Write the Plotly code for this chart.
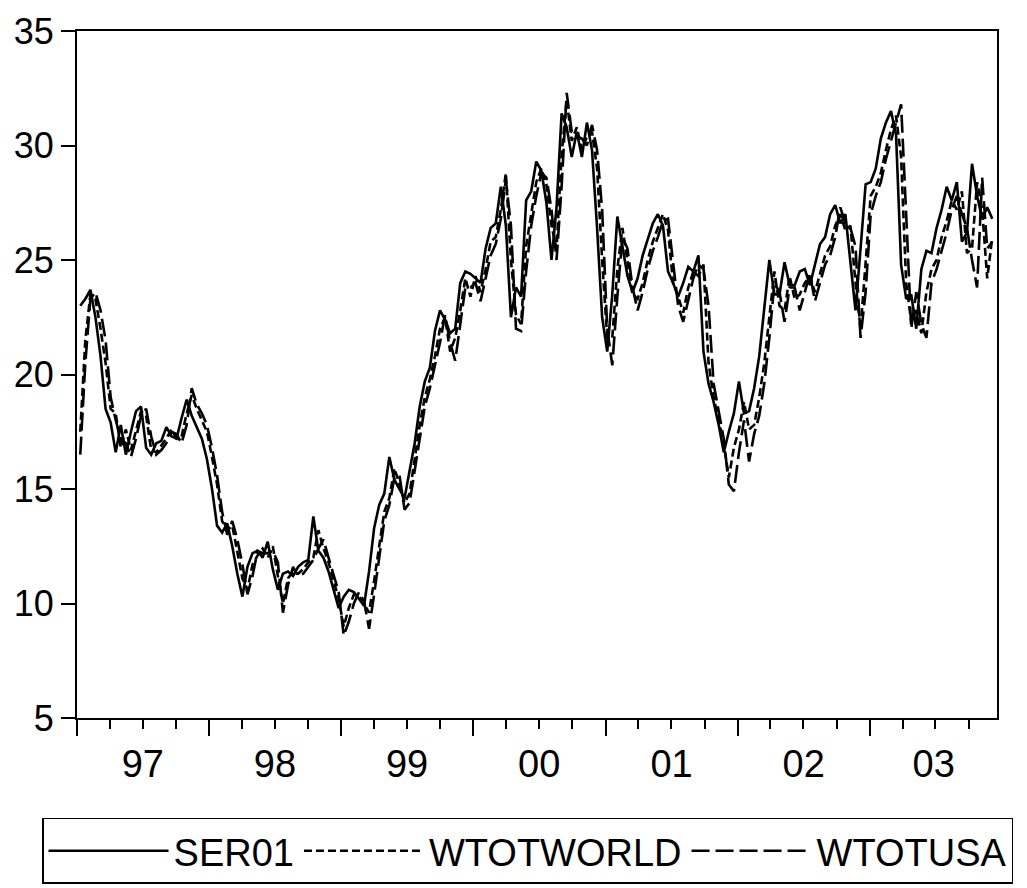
import pandas as pd
import plotly.graph_objects as go

# biweekly observation dates
dates = pd.date_range(start="1997-01-10", periods=181, freq="14D")

ser01 = [
    23.0, 23.3, 23.7, 22.5, 20.8, 18.5, 17.9, 16.6, 17.8, 16.5,
    17.5, 18.4, 18.6, 16.8, 16.5, 17.0, 17.1, 17.7, 17.3, 17.2,
    18.1, 18.9, 18.2, 17.7, 17.2, 16.3, 15.0, 13.4, 13.1, 13.5,
    12.5, 11.3, 10.3, 11.6, 12.2, 12.3, 12.0, 12.7, 11.5, 10.6,
    11.3, 11.4, 11.2, 11.6, 11.8, 11.9, 13.8, 12.3, 12.0, 11.4,
    10.6, 9.8, 10.3, 10.6, 10.5, 10.2, 9.9, 11.4, 13.3, 14.3,
    14.8, 16.4, 15.4, 15.0, 14.6, 15.8, 17.0, 18.6, 19.7, 20.3,
    21.9, 22.8, 22.4, 21.8, 22.0, 24.0, 24.5, 24.4, 24.2, 24.0,
    25.5, 26.4, 26.6, 28.2, 26.5, 22.5, 23.8, 23.4, 27.6, 28.0,
    29.3, 28.9, 27.5, 25.0, 27.3, 31.4, 30.8, 29.5, 30.6, 29.5,
    31.0, 29.8, 26.4, 22.5, 21.0, 23.5, 26.9, 25.6, 24.3, 23.6,
    24.2, 25.2, 25.9, 26.6, 27.0, 26.5, 24.5, 24.0, 23.4, 24.0,
    24.7, 24.5, 25.2, 21.0, 19.6, 18.8, 17.8, 16.6, 17.5, 18.3,
    19.7, 18.3, 18.4, 19.4, 20.8, 22.8, 25.0, 23.5, 23.5, 24.9,
    23.9, 23.9, 24.5, 24.6, 23.9, 24.8, 25.7, 26.0, 27.0, 27.4,
    26.6, 27.0, 25.0, 22.8, 25.5, 28.3, 28.4, 29.0, 30.3, 31.0,
    31.5, 30.5, 24.8, 23.3, 23.5, 22.0, 24.6, 25.4, 25.3, 26.4,
    27.2, 28.2, 27.6, 28.4, 25.8, 26.2, 29.2, 27.8, 26.8, 27.3,
    26.8,
]

wtotworld = [
    17.5, 21.5, 23.5, 23.3, 22.0, 20.5, 18.5, 18.3, 16.8, 17.6,
    16.7, 17.6, 18.4, 18.2, 16.7, 16.6, 16.9, 17.2, 17.6, 17.2,
    17.3, 18.3, 19.1, 18.5, 18.0, 17.5, 16.4, 15.2, 13.6, 13.2,
    13.4, 12.3, 11.1, 10.6, 11.7, 12.1, 12.4, 12.0, 12.5, 11.2,
    10.0, 11.1, 11.4, 11.3, 11.5, 11.8, 12.0, 13.2, 12.4, 11.8,
    11.0, 10.2, 9.0, 9.8, 10.4, 10.3, 10.0, 9.6, 11.0, 12.6,
    14.0, 14.6, 15.9, 15.2, 14.4, 14.8, 16.3, 17.8, 19.0, 19.8,
    20.8, 22.0, 22.5, 21.0, 21.6, 22.8, 24.2, 23.4, 24.3, 23.6,
    24.6, 25.8, 26.0, 27.2, 28.8, 25.0, 22.6, 22.2, 25.6, 27.0,
    28.4, 29.0, 28.3, 26.5, 25.5, 29.6, 32.0, 30.2, 30.8, 29.8,
    30.4, 30.6, 29.0, 25.0, 21.6, 21.6, 24.6, 26.4, 24.9, 23.5,
    23.3, 24.0, 25.0, 25.8, 26.4, 27.0, 26.3, 24.0, 23.4, 22.7,
    23.8, 24.5, 24.3, 24.8, 20.5, 19.0, 18.0, 17.0, 15.5, 16.8,
    17.6, 18.8, 17.6, 17.8, 19.0, 20.5, 22.5, 24.5, 23.0, 22.8,
    24.3, 23.3, 23.5, 24.0, 24.3, 23.6, 24.4, 25.2, 25.6, 26.5,
    27.0, 26.3, 26.5, 24.0, 22.0, 25.0, 27.8, 28.2, 28.8, 29.8,
    30.7, 31.3, 29.5, 24.0, 22.3, 22.8, 21.8, 23.6, 24.6, 25.0,
    26.0, 26.7, 27.6, 27.2, 28.0, 25.3, 25.5, 28.4, 27.2, 24.2,
    26.0,
]

wtotusa = [
    16.5, 20.5, 23.3, 23.6, 22.8, 21.5, 19.0, 18.0, 17.2, 17.0,
    16.4, 17.2, 18.2, 18.5, 17.3, 16.5, 16.7, 17.0, 17.5, 17.4,
    17.0, 17.8, 19.4, 18.7, 18.3, 17.8, 16.8, 15.6, 14.0, 13.0,
    13.6, 12.8, 11.7, 10.4, 11.2, 12.3, 12.2, 12.2, 12.3, 11.8,
    9.6, 10.8, 11.6, 11.2, 11.3, 11.6, 11.9, 12.4, 12.8, 12.0,
    11.3, 10.5, 8.6, 9.2, 10.0, 10.5, 10.1, 8.9, 10.4, 12.0,
    13.6, 14.3, 15.5, 15.6, 14.1, 14.4, 15.8, 17.3, 18.6, 19.4,
    20.4, 21.4, 22.6, 21.4, 20.6, 22.3, 23.8, 23.8, 24.0, 23.2,
    24.2, 25.2, 25.7, 26.8, 28.5, 26.5, 22.0, 21.9, 24.5, 26.5,
    27.8, 28.8, 28.6, 27.2, 25.0, 28.2, 32.3, 30.6, 30.4, 30.3,
    30.0, 30.9, 29.8, 27.2, 22.0, 20.4, 23.4, 26.0, 25.5, 23.8,
    22.8, 23.6, 24.6, 25.4, 26.0, 26.7, 26.8, 24.8, 23.0, 22.3,
    23.3, 24.2, 24.8, 24.6, 23.0, 19.6, 18.4, 17.2, 15.2, 14.9,
    16.6, 18.0, 16.2, 17.4, 18.2, 19.6, 21.6, 24.0, 23.6, 22.3,
    23.8, 23.8, 22.8, 23.6, 24.4, 23.2, 24.0, 24.8, 25.2, 26.0,
    27.3, 26.6, 26.4, 25.6, 21.6, 23.6, 27.0, 27.8, 28.4, 29.4,
    30.2, 31.0, 31.8, 27.0, 22.0, 23.6, 22.2, 21.6, 24.0, 24.6,
    25.4, 26.2, 27.2, 27.8, 27.0, 26.4, 25.0, 23.8, 28.6, 25.5,
    25.8,
]

year_labels = ["97", "98", "99", "00", "01", "02", "03"]
year_starts = ["1997-01-01", "1998-01-01", "1999-01-01", "2000-01-01",
               "2001-01-01", "2002-01-01", "2003-01-01"]
label_pos = ["1997-07-02", "1998-07-02", "1999-07-02", "2000-07-01",
             "2001-07-02", "2002-07-02", "2003-06-26"]
quarter_ticks = [f"{y}-{m:02d}-01" for y in range(1997, 2004) for m in (4, 7, 10)]
x_range = ["1997-01-01", "2003-12-18"]

FONT = "Liberation Sans, Arial, sans-serif"
LW = 2.6

fig = go.Figure()
fig.add_trace(go.Scatter(x=dates, y=ser01, name="SER01", mode="lines",
                         line=dict(color="black", width=LW)))
fig.add_trace(go.Scatter(x=dates, y=wtotworld, name="WTOTWORLD", mode="lines",
                         line=dict(color="black", width=LW, dash="8px,4px")))
fig.add_trace(go.Scatter(x=dates, y=wtotusa, name="WTOTUSA", mode="lines",
                         xaxis="x2",
                         line=dict(color="black", width=LW, dash="18px,6px")))

# the page body adds an 8px offset, so the figure is 8px smaller
fig.update_layout(
    width=1019, height=880,
    margin=dict(l=69, r=30, t=23, b=170, autoexpand=False),
    paper_bgcolor="white", plot_bgcolor="white",
    font=dict(family=FONT, color="black", size=36),
    xaxis=dict(
        type="date", range=x_range, automargin=False,
        tickmode="array", tickvals=year_starts, ticktext=[""] * len(year_starts),
        ticks="outside", ticklen=16, tickwidth=2, tickcolor="black",
        minor=dict(tickmode="array", tickvals=quarter_ticks, ticks="outside",
                   ticklen=9, tickwidth=2, tickcolor="black", showgrid=False),
        showline=True, linecolor="black", linewidth=2, mirror=True,
        showgrid=False, zeroline=False,
    ),
    xaxis2=dict(
        type="date", range=x_range, matches="x", overlaying="x", anchor="y",
        side="bottom", automargin=False,
        tickmode="array", tickvals=label_pos, ticktext=year_labels,
        ticks="outside", ticklen=12, tickcolor="rgba(0,0,0,0)",
        tickfont=dict(size=38, family=FONT, color="black"),
        showline=False, showgrid=False, zeroline=False,
    ),
    yaxis=dict(
        range=[5, 35], tickmode="array", tickvals=[5, 10, 15, 20, 25, 30, 35],
        automargin=False,
        ticks="outside", ticklen=14, tickwidth=2, tickcolor="black",
        tickfont=dict(size=36, family=FONT, color="black"),
        showline=True, linecolor="black", linewidth=2, mirror=True,
        showgrid=False, zeroline=False,
    ),
    legend=dict(
        orientation="h", x=-0.038, xanchor="left", y=-0.2416, yanchor="bottom",
        bordercolor="black", borderwidth=1.5, bgcolor="white",
        font=dict(size=38, family=FONT, color="black"),
        itemwidth=120, traceorder="normal",
    ),
    showlegend=True,
)

fig.write_html("out.html")
